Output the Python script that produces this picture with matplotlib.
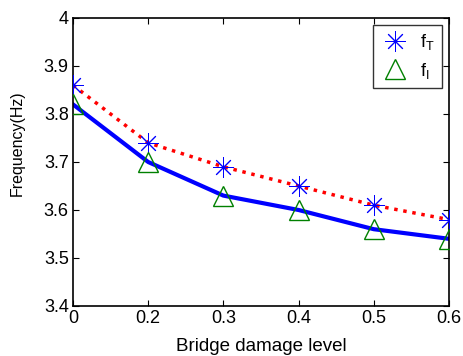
import matplotlib
matplotlib.use("Agg")
import matplotlib.pyplot as plt

plt.rcParams['font.family'] = ['Liberation Sans', 'DejaVu Sans']
plt.rcParams['mathtext.fontset'] = 'custom'
plt.rcParams['mathtext.rm'] = 'Liberation Sans'

damage_labels = ['0', '0.2', '0.3', '0.4', '0.5', '0.6']
f_T = [3.86, 3.74, 3.69, 3.65, 3.61, 3.58]
f_I = [3.82, 3.70, 3.63, 3.60, 3.56, 3.54]
yticks = [3.4, 3.5, 3.6, 3.7, 3.8, 3.9, 4.0]
yticklabels = ['3.4', '3.5', '3.6', '3.7', '3.8', '3.9', '4']

x = list(range(len(damage_labels)))

fig = plt.figure(figsize=(4.64, 3.56), dpi=100)
ax = fig.add_axes([73/464, 1-306/356, (449-73)/464, (306-18)/356])

ax.plot(x, f_T, color='red', linestyle=':', linewidth=2.5, zorder=2)
ax.plot(x, f_I, color='blue', linestyle='-', linewidth=3, zorder=2)
ax.plot(x, f_T, linestyle='none', marker=(8, 2, 0), markersize=15,
        markeredgecolor='blue', markeredgewidth=0.7, color='blue',
        label=r'$\mathregular{f_T}$', zorder=3)
ax.plot(x, f_I, linestyle='none', marker='^', markersize=15,
        markerfacecolor='none', markeredgecolor='green', markeredgewidth=1.0,
        label=r'$\mathregular{f_I}$', zorder=3)

ax.set_xlim(x[0], x[-1])
ax.set_ylim(3.4, 4.0)
ax.set_xticks(x)
ax.set_xticklabels(damage_labels)
ax.set_yticks(yticks)
ax.set_yticklabels(yticklabels)
ax.tick_params(direction='in', top=True, right=True, labelsize=13, length=4, width=0.8, pad=3)
for s in ax.spines.values():
    s.set_linewidth(1.2)

ax.set_xlabel('Bridge damage level', fontsize=13.5, labelpad=8)
ax.set_ylabel('Frequency(Hz)', fontsize=11.5)
ax.yaxis.set_label_coords(-0.128, 0.566)

leg = ax.legend(loc='upper right', fontsize=13, frameon=True, fancybox=False,
                edgecolor='black', borderaxespad=0.4, handlelength=1.6,
                handletextpad=0.6, labelspacing=0.45, borderpad=0.4)
leg.get_frame().set_linewidth(1.0)

fig.savefig('out.png', dpi=100)
